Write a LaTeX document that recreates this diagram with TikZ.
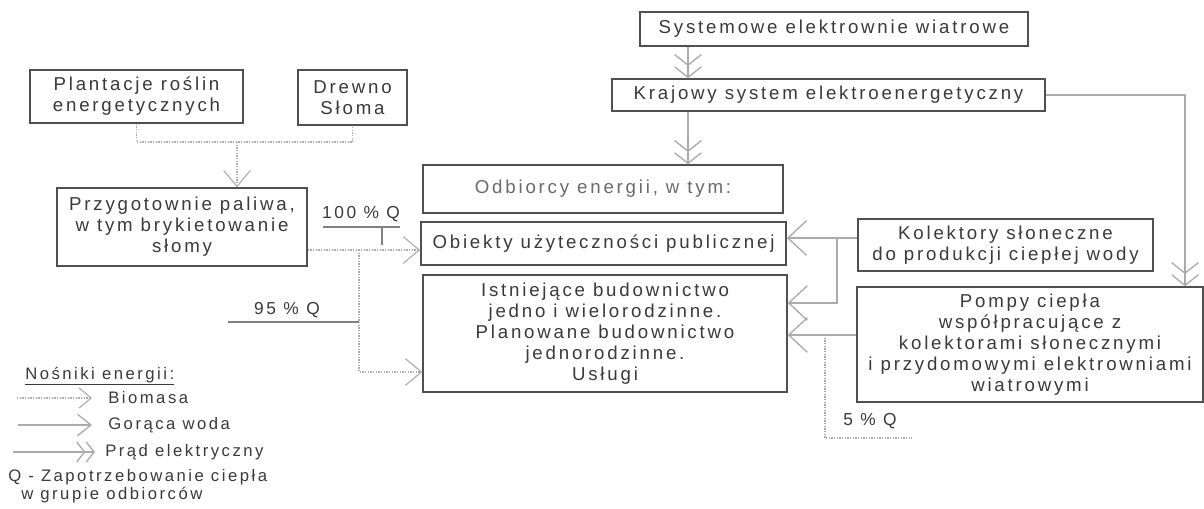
\documentclass[tikz,border=0pt]{standalone}
\usepackage{fontspec}
\setmainfont{Liberation Sans}[LetterSpace=15]
\usetikzlibrary{arrows.meta}
\definecolor{boxc}{HTML}{505050}
\definecolor{txtc}{HTML}{3A3A3A}
\definecolor{txtl}{HTML}{6A6A6A}
\definecolor{linec}{HTML}{ABABAB}
\definecolor{lblc}{HTML}{808080}
\tikzset{
  box/.style={draw=boxc, line width=1.1pt, align=center, text=txtc, inner sep=0pt,
    font=\fontsize{14}{15.75}\selectfont},
  lbl/.style={text=txtc, inner sep=0pt, font=\fontsize{13}{15}\selectfont},
  leg/.style={text=txtc, inner sep=0pt, anchor=west, font=\fontsize{12.5}{14}\selectfont},
  bio/.style={draw=linec, densely dotted, line width=1pt},
  biohead/.style={-{Straight Barb[length=12pt,width=20pt,line width=0.8pt]}},
  hot/.style={draw=linec, line width=1.8pt, -{Straight Barb[length=14pt,width=26pt,line width=1pt]}},
  elec/.style={draw=linec, line width=1.8pt,
    -{Straight Barb[length=8pt,width=20pt,line width=1pt]Straight Barb[length=8pt,width=20pt,line width=1pt]}},
  legbio/.style={bio, -{Straight Barb[length=9pt,width=15pt,line width=0.8pt]}},
  leghot/.style={draw=linec, line width=1.8pt, -{Straight Barb[length=10pt,width=16pt,line width=1pt]}},
  legelec/.style={draw=linec, line width=1.8pt,
    -{Straight Barb[length=6pt,width=15pt,line width=1pt]Straight Barb[length=6pt,width=15pt,line width=1pt]}},
  thin/.style={draw=lblc, line width=0.8pt},
}
\begin{document}
\begin{tikzpicture}[x=0.75pt,y=-0.75pt]
\useasboundingbox[fill=white] (0,0) rectangle (1204,508);

% boxes
\node[box, minimum width=159.75pt, minimum height=39.75pt] (pla) at (136.5,96.5) {Plantacje roślin\\energetycznych};
\node[box, minimum width=81.75pt, minimum height=41.25pt] (dre) at (352.5,97.5) {Drewno\\Słoma};
\node[box, minimum width=291pt, minimum height=25.5pt] (sys) at (834,29) {Systemowe elektrownie wiatrowe};
\node[box, minimum width=324.75pt, minimum height=24pt] (kra) at (828.5,95) {Krajowy system elektroenergetyczny};
\node[box, minimum width=187.5pt, minimum height=58.5pt] (prz) at (182,227) {Przygotownie paliwa,\\w tym brykietowanie\\słomy};
\node[box, minimum width=270pt, minimum height=36pt, text=txtl] (odb) at (603,189) {Odbiorcy energii, w tym:};
\node[box, minimum width=274pt, minimum height=32.25pt] (obj) at (603.5,243.5) {Obiekty użyteczności publicznej};
\node[box, minimum width=273pt, minimum height=87.75pt] (ist) at (605,333.5) {Istniejące budownictwo\\jedno i wielorodzinne.\\Planowane budownictwo\\jednorodzinne.\\Usługi};
\node[box, minimum width=221.25pt, minimum height=39pt] (kol) at (1005.5,245) {Kolektory słoneczne\\do produkcji ciepłej wody};
\node[box, minimum width=259.5pt, minimum height=86.25pt] (pom) at (1030,344.5) {Pompy ciepła\\współpracujące z\\kolektorami słonecznymi\\i przydomowymi elektrowniami\\wiatrowymi};

% biomass connectors
\coordinate (bj) at (237,142);
\draw[bio] (pla.south) -- (pla.south |- bj) -- (dre.south |- bj) -- (dre.south);
\draw[bio, biohead] (bj) -- (bj |- prz.north);
\coordinate (pj) at (359,250);
\coordinate (pk) at (359,372);
\draw[bio, biohead] (prz.east |- pj) -- (obj.west |- pj);
\draw[bio, biohead] (pj) -- (pk) -- (ist.west |- pk);

% percentage labels
\node[lbl] (q100) at (361,214) {100 \% Q};
\coordinate (u1) at (323,227);
\coordinate (u2) at (400,227);
\draw[thin] (u1) -- (u2);
\coordinate (t1) at (382,227);
\coordinate (t2) at (382,245);
\draw[thin] (t1) -- (t2);
\node[lbl] (q95) at (287,310) {95 \% Q};
\coordinate (u3) at (228,322);
\draw[thin] (u3) -- (pj |- u3);
\node[lbl] (q5) at (870,421) {5 \% Q};

% electricity connectors
\coordinate (ex) at (688,0);
\draw[elec] (sys.south -| ex) -- (kra.north -| ex);
\draw[elec] (kra.south -| ex) -- (odb.north -| ex);
\coordinate (er) at (1185,95);
\draw[elec] (kra.east) -- (er) -- (er |- pom.north);

% hot water connectors
\coordinate (hw1) at (837,238);
\coordinate (hw2) at (837,303);
\draw[hot] (kol.west |- hw1) -- (obj.east |- hw1);
\draw[hot] (hw1) -- (hw2) -- (ist.east |- hw2);
\coordinate (hw3) at (825,335);
\coordinate (hw4) at (825,438);
\coordinate (hw5) at (912,438);
\draw[hot] (pom.west |- hw3) -- (ist.east |- hw3);
\draw[bio] (hw3) -- (hw4) -- (hw5);

% legend
\node[leg] (legt) at (25,376) {\underline{Nośniki energii:}};
\coordinate (l1a) at (17,398);  \coordinate (l1b) at (92,398);
\draw[legbio] (l1a) -- (l1b);
\node[leg] (leg1) at (108,398) {Biomasa};
\coordinate (l2a) at (18,425);  \coordinate (l2b) at (92,425);
\draw[leghot] (l2a) -- (l2b);
\node[leg] (leg2) at (108,425) {Gorąca woda};
\coordinate (l3a) at (13,452);  \coordinate (l3b) at (95,452);
\draw[legelec] (l3a) -- (l3b);
\node[leg] (leg3) at (105,452) {Prąd elektryczny};
\node[leg] (legq) at (8,477) {Q - Zapotrzebowanie ciepła};
\node[leg] (legq2) at (21,495) {w grupie odbiorców};
\end{tikzpicture}
\end{document}
